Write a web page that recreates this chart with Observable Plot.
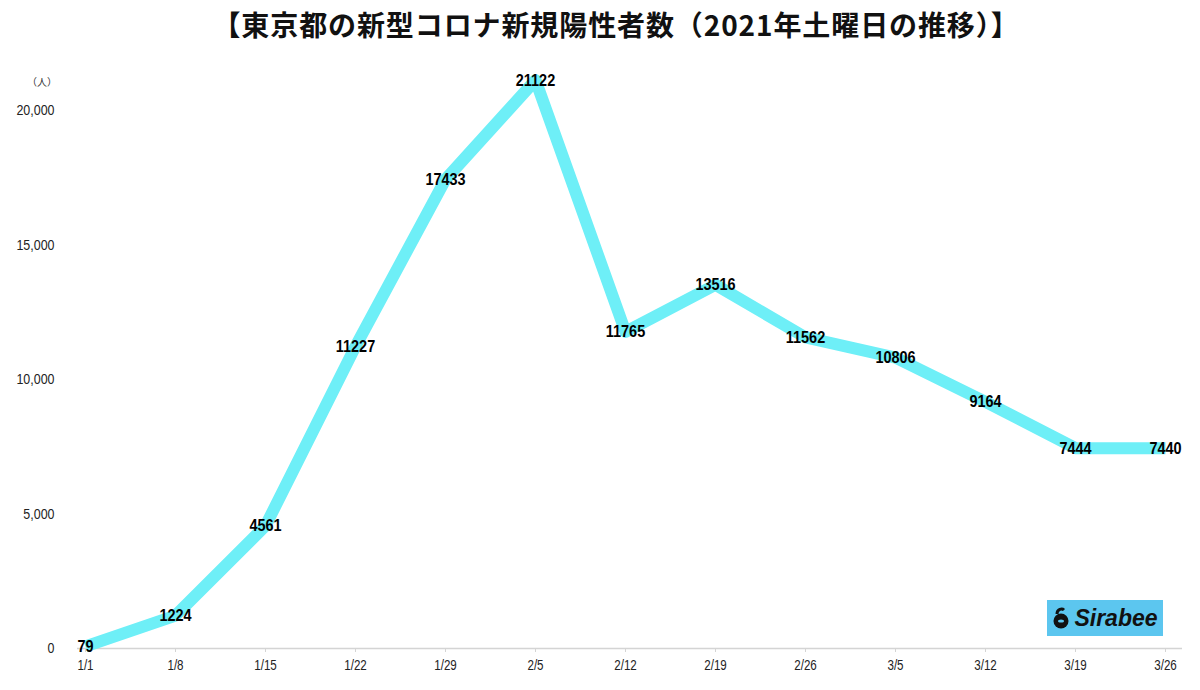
<!DOCTYPE html>
<html>
<head>
<meta charset="utf-8">
<script src="https://cdn.jsdelivr.net/npm/d3@7"></script>
<script src="https://cdn.jsdelivr.net/npm/@observablehq/plot@0.6"></script>
<style>
  html, body { margin: 0; padding: 0; background: #fff; }
  #wrap { position: relative; width: 1200px; height: 690px; overflow: hidden; }
  #title { height: 50px; line-height: 48px; text-align: center; padding-left: 32px; box-sizing: border-box; font-family: "Noto Sans CJK JP", sans-serif; font-weight: 700; font-size: 28px; color: #111; letter-spacing: 0.9px; }
  #unit { position: absolute; left: 27px; top: 74px; font-family: "Noto Sans CJK JP", sans-serif; font-size: 10px; color: #333; }
  #logo { position: absolute; left: 1047px; top: 600px; width: 116px; height: 36px; background: #5cc6ef; display: flex; align-items: center; justify-content: center; gap: 4px; font-family: "Liberation Sans", Arial, sans-serif; font-weight: 700; font-style: italic; font-size: 23px; color: #111; }
</style>
</head>
<body>
<div id="wrap">
  <div id="title">【東京都の新型コロナ新規陽性者数（2021年土曜日の推移）】</div>
  <div id="unit">（人）</div>
  <div id="chart"></div>
  <div id="logo"><svg width="18" height="22" viewBox="0 0 18 22"><circle cx="9" cy="14" r="7.5" fill="#111"/><path d="M5 7 C5 2, 10 1, 12 3" stroke="#111" stroke-width="3" fill="none"/><ellipse cx="9" cy="14" rx="3" ry="1.6" fill="#5cc6ef"/></svg><span>Sirabee</span></div>
</div>
<script>
const dates = ["1/1","1/8","1/15","1/22","1/29","2/5","2/12","2/19","2/26","3/5","3/12","3/19","3/26"];
const cases = [79,1224,4561,11227,17433,21122,11765,13516,11562,10806,9164,7444,7440];
const yTicks = [0,5000,10000,15000,20000];

const data = dates.map((d, i) => ({date: d, value: cases[i]}));
const fmt = d3.format(",");

const chart = Plot.plot({
  width: 1200,
  height: 640,
  marginLeft: 80,
  marginRight: 30,
  marginTop: 6,
  marginBottom: 42,
  style: {fontFamily: "'Liberation Sans', Arial, sans-serif", background: "transparent"},
  x: {type: "point", domain: dates, padding: 0, label: null},
  y: {domain: [0, 22000], label: null},
  marks: [
    Plot.ruleY([0], {stroke: "#d4d4d4", strokeWidth: 1.5, insetLeft: -3, insetRight: -12}),
    Plot.axisX({tickSize: 4, stroke: "#d4d4d4", tickPadding: 7, fontSize: 14.5, fill: "#222", label: null}),
    Plot.axisY({ticks: yTicks, tickSize: 0, tickPadding: 26, fontSize: 15, fill: "#222", tickFormat: fmt, label: null}),
    Plot.line(data, {x: "date", y: "value", stroke: "#6eeff7", strokeWidth: 12, strokeLinejoin: "round", strokeLinecap: "butt"}),
    Plot.text(data, {x: "date", y: "value", text: d => String(d.value), fontSize: 17, fontWeight: "bold", fill: "#000"})
  ]
});
document.getElementById("chart").appendChild(chart);

// size each text explicitly, then condense horizontally to mimic the narrow typeface of the original
const dateSet = new Set(dates);
const tickSet = new Set(yTicks.map(fmt));
const valueSet = new Set(cases.map(String));
d3.select(chart).selectAll("text").each(function() {
  const s = this.textContent.trim();
  let size = null, f = 1;
  if (dateSet.has(s)) { size = 14.5; f = 0.8; }
  else if (tickSet.has(s)) { size = 15; f = 0.83; }
  else if (valueSet.has(s)) { size = 17; f = 0.85; }
  if (size === null) return;
  this.style.fontSize = size + "px";
  const w = this.getComputedTextLength();
  this.setAttribute("textLength", (w * f).toFixed(2));
  this.setAttribute("lengthAdjust", "spacingAndGlyphs");
});
</script>
</body>
</html>
